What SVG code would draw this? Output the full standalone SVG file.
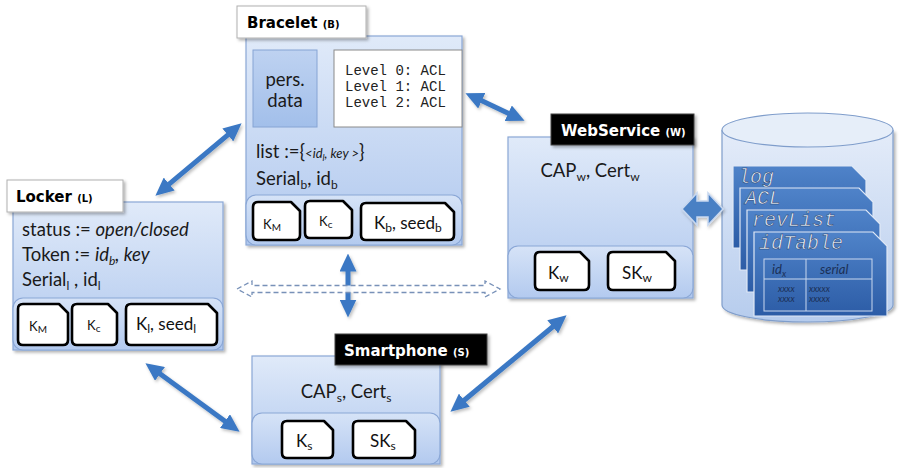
<svg xmlns="http://www.w3.org/2000/svg" width="904" height="468" viewBox="0 0 904 468">
  <defs>
    <linearGradient id="boxGrad" x1="0" y1="0" x2="0" y2="1">
      <stop offset="0" stop-color="#e0eaf9"/>
      <stop offset="1" stop-color="#b0c8ee"/>
    </linearGradient>
    <linearGradient id="panelGrad" x1="0" y1="0" x2="0" y2="1">
      <stop offset="0" stop-color="#d6e3f7"/>
      <stop offset="1" stop-color="#b3caef"/>
    </linearGradient>
    <linearGradient id="persGrad" x1="0" y1="0" x2="0" y2="1">
      <stop offset="0" stop-color="#bed2f1"/>
      <stop offset="1" stop-color="#a2bfea"/>
    </linearGradient>
    <linearGradient id="cylGrad" x1="0" y1="0" x2="0" y2="1">
      <stop offset="0" stop-color="#e4ecf9"/>
      <stop offset="1" stop-color="#b6cced"/>
    </linearGradient>
    <linearGradient id="tableGrad" x1="0" y1="0" x2="0" y2="1">
      <stop offset="0" stop-color="#4f83c9"/>
      <stop offset="1" stop-color="#2c5ca6"/>
    </linearGradient>
    <filter id="shadow" x="-10%" y="-10%" width="125%" height="130%">
      <feDropShadow dx="2" dy="2" stdDeviation="1.5" flood-color="#000" flood-opacity="0.3"/>
    </filter>
    <filter id="arrowShadow" x="-20%" y="-20%" width="140%" height="140%">
      <feDropShadow dx="1.5" dy="2" stdDeviation="1.5" flood-color="#000" flood-opacity="0.25"/>
    </filter>
    <marker id="head" viewBox="0 0 18 17" markerWidth="18" markerHeight="17" refX="0.5" refY="8.5" orient="auto-start-reverse" markerUnits="userSpaceOnUse">
      <path d="M0,0 L18,8.5 L0,17 Z" fill="#3a78c4"/>
    </marker>
    <style>
      .box { fill: url(#boxGrad); stroke: #8aa7d6; stroke-width: 1.2; }
      .panel { fill: url(#panelGrad); stroke: #8aa7d6; stroke-width: 1.2; }
      .card { fill: #ffffff; stroke: #000000; stroke-width: 2.6; stroke-linejoin: round; }
      .lblW { fill: #ffffff; stroke: #b0b0b0; stroke-width: 1; }
      .lblB { fill: #000000; stroke: #444; stroke-width: 1; }
      .lbl { font-family: "DejaVu Sans", Verdana, sans-serif; font-weight: bold; font-size: 15px; }
      .lbl .s { font-size: 10px; }
      .t { font-family: Lato, "Open Sans", sans-serif; font-size: 18.5px; fill: #1a1a1a; }
      .k { font-family: Lato, "Open Sans", sans-serif; font-size: 17px; fill: #111; }
      .ks { font-family: Lato, "Open Sans", sans-serif; font-size: 13px; fill: #111; }
      .mono { font-family: "Liberation Mono", "Courier New", monospace; font-size: 14px; fill: #222; }
      .arrow { stroke: #3a78c4; stroke-width: 5; fill: none; marker-start: url(#head); marker-end: url(#head); }
      .dbcard { fill: url(#tableGrad); stroke: #dfe8f6; stroke-width: 1.2; }
      .dbname { font-family: "Liberation Mono", "Courier New", monospace; font-style: italic; font-size: 20px; fill: #eaf1fc; stroke: #1b3a6b; stroke-width: 0.5; }
      .tbl { font-family: Lato, "Open Sans", sans-serif; font-style: italic; fill: #1b2f55; }
    </style>
  </defs>

  <!-- Bracelet -->
  <g id="bracelet">
    <rect class="box" x="246" y="36" width="216" height="209" filter="url(#shadow)"/>
    <rect x="253" y="50" width="64" height="77" fill="url(#persGrad)" stroke="#86a4d4" stroke-width="1"/>
    <text class="t" x="285" y="86" text-anchor="middle" font-size="19.5">pers.</text>
    <text class="t" x="285" y="107" text-anchor="middle" font-size="19.5">data</text>
    <rect x="334" y="50" width="128" height="77" fill="#ffffff" stroke="#8a8a8a" stroke-width="1"/>
    <text class="mono" x="345" y="75">Level 0: ACL</text>
    <text class="mono" x="345" y="91">Level 1: ACL</text>
    <text class="mono" x="345" y="107">Level 2: ACL</text>
    <text class="t" x="256" y="158">list :={<tspan font-style="italic" font-size="13">&lt;id<tspan font-size="9" dy="3">l</tspan><tspan dy="-3">, key &gt;</tspan></tspan>}</text>
    <text class="t" x="256" y="185">Serial<tspan font-size="12" dy="4">b</tspan><tspan dy="-4">, id</tspan><tspan font-size="12" dy="4">b</tspan></text>
    <rect class="panel" x="246" y="195" width="216" height="50" rx="10"/>
    <path class="card" d="M258,202 H291 L300,211 V235 Q300,240 295,240 H258 Q253,240 253,235 V207 Q253,202 258,202 Z"/>
    <text class="ks" x="263" y="229">K<tspan font-size="10" dy="2">M</tspan></text>
    <path class="card" d="M310,201 H343 L352,210 V233 Q352,238 347,238 H310 Q305,238 305,233 V206 Q305,201 310,201 Z"/>
    <text class="ks" x="319" y="226">K<tspan font-size="10" dy="2">c</tspan></text>
    <path class="card" d="M366,203 H445 L454,212 V235 Q454,240 449,240 H366 Q361,240 361,235 V208 Q361,203 366,203 Z"/>
    <text class="k" x="374" y="229">K<tspan font-size="12" dy="3">b</tspan><tspan dy="-3">, seed</tspan><tspan font-size="12" dy="3">b</tspan></text>
    <rect class="lblW" x="237" y="6" width="129" height="32" filter="url(#shadow)"/>
    <text class="lbl" x="247" y="28">Bracelet <tspan class="s">(B)</tspan></text>
  </g>

  <!-- Locker -->
  <g id="locker">
    <rect class="box" x="13" y="202" width="210" height="148" filter="url(#shadow)"/>
    <text class="t" x="22" y="236">status := <tspan font-style="italic">open/closed</tspan></text>
    <text class="t" x="22" y="261">Token := <tspan font-style="italic">id<tspan font-size="12" dy="4">b</tspan><tspan dy="-4">, key</tspan></tspan></text>
    <text class="t" x="22" y="286">Serial<tspan font-size="12" dy="4">l</tspan><tspan dy="-4"> , id</tspan><tspan font-size="12" dy="4">l</tspan></text>
    <rect class="panel" x="13" y="298" width="210" height="52" rx="10"/>
    <path class="card" d="M23,304 H59 L68,313 V340 Q68,345 63,345 H23 Q18,345 18,340 V309 Q18,304 23,304 Z"/>
    <text class="ks" x="29" y="331">K<tspan font-size="10" dy="2">M</tspan></text>
    <path class="card" d="M77,304 H108 L117,313 V340 Q117,345 112,345 H77 Q72,345 72,340 V309 Q72,304 77,304 Z"/>
    <text class="ks" x="87" y="330">K<tspan font-size="10" dy="2">c</tspan></text>
    <path class="card" d="M131,304 H208 L217,313 V340 Q217,345 212,345 H131 Q126,345 126,340 V309 Q126,304 131,304 Z"/>
    <text class="k" x="136" y="330">K<tspan font-size="12" dy="3">l</tspan><tspan dy="-3">, seed</tspan><tspan font-size="12" dy="3">l</tspan></text>
    <rect class="lblW" x="7" y="180" width="116" height="32" filter="url(#shadow)"/>
    <text class="lbl" x="16" y="202">Locker <tspan class="s">(L)</tspan></text>
  </g>

  <!-- Smartphone -->
  <g id="smartphone">
    <rect class="box" x="252" y="356" width="188" height="108" filter="url(#shadow)"/>
    <text class="t" x="346" y="398" text-anchor="middle">CAP<tspan font-size="12" dy="4">s</tspan><tspan dy="-4">, Cert</tspan><tspan font-size="12" dy="4">s</tspan></text>
    <rect class="panel" x="252" y="413" width="188" height="51" rx="10"/>
    <path class="card" d="M287,421 H324 L333,430 V453 Q333,458 328,458 H287 Q282,458 282,453 V426 Q282,421 287,421 Z"/>
    <text class="k" x="296" y="447">K<tspan font-size="12" dy="3">s</tspan></text>
    <path class="card" d="M358,421 H406 L415,430 V453 Q415,458 410,458 H358 Q353,458 353,453 V426 Q353,421 358,421 Z"/>
    <text class="k" x="370" y="447">SK<tspan font-size="12" dy="3">s</tspan></text>
    <rect class="lblB" x="335" y="334" width="152" height="31" filter="url(#shadow)"/>
    <text class="lbl" x="344" y="356" fill="#ffffff">Smartphone <tspan class="s">(S)</tspan></text>
  </g>

  <!-- WebService -->
  <g id="webservice">
    <rect class="box" x="508" y="137" width="185" height="161" filter="url(#shadow)"/>
    <text class="t" x="590" y="177" text-anchor="middle">CAP<tspan font-size="12" dy="4">w</tspan><tspan dy="-4">, Cert</tspan><tspan font-size="12" dy="4">w</tspan></text>
    <rect class="panel" x="508" y="246" width="185" height="52" rx="10"/>
    <path class="card" d="M540,252 H580 L589,261 V285 Q589,290 584,290 H540 Q535,290 535,285 V257 Q535,252 540,252 Z"/>
    <text class="k" x="548" y="279">K<tspan font-size="12" dy="3">w</tspan></text>
    <path class="card" d="M613,252 H666 L675,261 V285 Q675,290 670,290 H613 Q608,290 608,285 V257 Q608,252 613,252 Z"/>
    <text class="k" x="622" y="279">SK<tspan font-size="12" dy="3">w</tspan></text>
    <rect class="lblB" x="551" y="114" width="143" height="31" filter="url(#shadow)"/>
    <text class="lbl" x="561" y="136" fill="#ffffff">WebService <tspan class="s">(W)</tspan></text>
  </g>

  <!-- Database -->
  <g id="database">
    <path d="M722,130 V305 A85.5,17 0 0 0 893,305 V130" fill="url(#cylGrad)" stroke="#7f9dcb" stroke-width="1.2" filter="url(#shadow)"/>
    <ellipse cx="807.5" cy="130" rx="85.5" ry="17" fill="#e6eef9" stroke="#7f9dcb" stroke-width="1.2"/>
    <path class="dbcard" d="M733,166 H852 L866,180 V248 H733 Z"/>
    <text class="dbname" x="738" y="183">log</text>
    <path class="dbcard" d="M740,188 H859 L873,202 V270 H740 Z"/>
    <text class="dbname" x="745" y="204">ACL</text>
    <path class="dbcard" d="M747,210 H866 L880,224 V292 H747 Z"/>
    <text class="dbname" x="752" y="226">revList</text>
    <path class="dbcard" d="M754,232 H873 L887,246 V316 H754 Z"/>
    <text class="dbname" x="759" y="249">idTable</text>
    <rect x="764" y="259" width="108" height="52" fill="none" stroke="#c9d8ef" stroke-width="1"/>
    <line x1="806" y1="259" x2="806" y2="311" stroke="#c9d8ef" stroke-width="1"/>
    <line x1="764" y1="279" x2="872" y2="279" stroke="#c9d8ef" stroke-width="1"/>
    <text class="tbl" x="772" y="274" font-size="13" fill="#e8f0fb">id<tspan font-size="9" dy="3">x</tspan></text>
    <text class="tbl" x="820" y="274" font-size="13" fill="#e8f0fb">serial</text>
    <text class="tbl" x="778" y="292" font-size="9">xxxx</text>
    <text class="tbl" x="778" y="302" font-size="9">xxxx</text>
    <text class="tbl" x="809" y="292" font-size="9">xxxxx</text>
    <text class="tbl" x="809" y="302" font-size="9">xxxxx</text>
  </g>

  <!-- Connectors -->
  <g id="connectors">
    <g filter="url(#arrowShadow)">
      <line class="arrow" x1="228.2" y1="134.6" x2="168.8" y2="184.4"/>
      <line class="arrow" x1="481.3" y1="100.6" x2="508.7" y2="113.4"/>
      <line class="arrow" x1="348" y1="271" x2="348" y2="300"/>
      <line class="arrow" x1="159.6" y1="373.6" x2="225.4" y2="421.4"/>
      <line class="arrow" x1="553.1" y1="326.5" x2="463.9" y2="400.5"/>
    </g>
    <polygon points="237,289 252,281 252,285.5 485,285.5 485,281 500,289 485,297 485,292.5 252,292.5 252,297" fill="#ffffff" fill-opacity="0.85" stroke="#7891b8" stroke-width="1.3" stroke-dasharray="5,3"/>
    <polygon points="682,209 697,193 697,201 708,201 708,193 723,209 708,225 708,217 697,217 697,225" fill="#4a80c4" stroke="#c7d7ef" stroke-width="1.5" filter="url(#arrowShadow)"/>
  </g>
</svg>
